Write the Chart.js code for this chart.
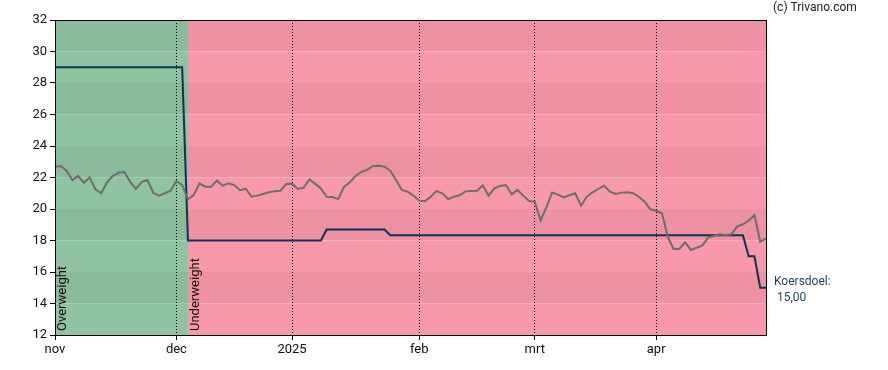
<!DOCTYPE html>
<html>
<head>
<meta charset="utf-8">
<script src="https://cdn.jsdelivr.net/npm/chart.js@4.4.1/dist/chart.umd.min.js"></script>
<style>
  body { margin: 0; background: #fff; }
  #wrap { width: 888px; height: 370px; position: relative; }
</style>
</head>
<body>
<div id="wrap"><canvas id="thecanvas"></canvas></div>
<script>
// trading days from 1 nov 2024, one value per day
const pricevals = [
  22.69, 22.73, 22.43, 21.84, 22.10, 21.67, 22.01, 21.25, 21.00, 21.70,
  22.10, 22.30, 22.35, 21.73, 21.27, 21.73, 21.84, 21.03, 20.85, 21.00,
  21.16, 21.78, 21.52, 20.62, 20.89, 21.63, 21.42, 21.42, 21.80, 21.48,
  21.63, 21.52, 21.20, 21.29, 20.78, 20.85, 20.95, 21.06, 21.12, 21.16,
  21.59, 21.61, 21.27, 21.35, 21.88, 21.61, 21.31, 20.78, 20.76, 20.63,
  21.40, 21.70, 22.10, 22.35, 22.48, 22.73, 22.75, 22.69, 22.43, 21.84,
  21.21, 21.10, 20.85, 20.53, 20.49, 20.78, 21.14, 21.00, 20.63, 20.78,
  20.87, 21.12, 21.14, 21.16, 21.50, 20.85, 21.31, 21.46, 21.52, 20.93,
  21.21, 20.85, 20.51, 20.46, 19.26, 20.10, 21.04, 20.91, 20.74, 20.87,
  21.00, 20.21, 20.78, 21.06, 21.27, 21.48, 21.10, 20.95, 21.04, 21.06,
  21.00, 20.78, 20.46, 19.98, 19.89, 19.73, 18.24, 17.46, 17.46, 17.88,
  17.40, 17.54, 17.69, 18.20, 18.29, 18.39, 18.35, 18.39, 18.88, 19.03,
  19.26, 19.62, 17.92, 18.14
];

// koersdoel (target) as steps: [from index, value]
const targetsteps = [[0, 29], [23, 18], [47, 18.7], [58, 18.33], [120, 17], [122, 15]];

// advice zones: [from index, label]
const zones = [[0, 'Overweight'], [23, 'Underweight']];

const monthidx = [0, 21, 41, 63, 83, 104];
const monthnames = ['nov', 'dec', '2025', 'feb', 'mrt', 'apr'];
const yticks = [12, 14, 16, 18, 20, 22, 24, 26, 28, 30, 32];

function buildtarget() {
  const out = [];
  for (let i = 0; i < pricevals.length; i++) {
    let v = null;
    for (let s = 0; s < targetsteps.length; s++) {
      if (i >= targetsteps[s][0]) v = targetsteps[s][1];
    }
    out.push({x: i, y: v});
  }
  return out;
}

const pricepts = pricevals.map(function(v, i) { return {x: i, y: v}; });

const zonecolors = {
  'Overweight': ['#90c3a2', '#89ba9a'],
  'Underweight': ['#f799aa', '#ee92a3']
};

const bgplugin = {
  id: 'bgzones',
  beforeDraw(chart) {
    const c = chart.ctx;
    const xs = chart.scales.x, ys = chart.scales.y;
    const area = chart.chartArea;
    for (let z = 0; z < zones.length; z++) {
      const x0 = xs.getPixelForValue(zones[z][0]);
      const x1 = z + 1 < zones.length ? xs.getPixelForValue(zones[z + 1][0]) : area.right;
      const cols = zonecolors[zones[z][1]];
      for (let v = 12; v < 32; v += 2) {
        const top = ys.getPixelForValue(v + 2), bot = ys.getPixelForValue(v);
        c.fillStyle = ((v / 2) % 2 === 0) ? cols[0] : cols[1];
        c.fillRect(x0, top, x1 - x0, bot - top);
      }
    }
  },
  afterDraw(chart) {
    const c = chart.ctx;
    const xs = chart.scales.x;
    const area = chart.chartArea;
    // zone labels
    c.save();
    c.font = '13px Roboto';
    c.fillStyle = '#111';
    c.textBaseline = 'middle';
    c.textAlign = 'left';
    for (let z = 0; z < zones.length; z++) {
      const x0 = xs.getPixelForValue(zones[z][0]);
      c.save();
      c.translate(x0 + 8, area.bottom - 4);
      c.rotate(-Math.PI / 2);
      c.fillText(zones[z][1], 0, 0);
      c.restore();
    }
    c.restore();
    // frame
    c.save();
    c.strokeStyle = '#000';
    c.lineWidth = 1;
    c.strokeRect(area.left + 0.5, area.top + 0.5, area.right - area.left, area.bottom - area.top);
    c.restore();
    // koersdoel text
    const last = targetsteps[targetsteps.length - 1][1];
    c.save();
    c.font = '12px Roboto';
    c.fillStyle = '#1d3d5e';
    c.textAlign = 'left';
    c.textBaseline = 'middle';
    c.fillText('Koersdoel:', area.right + 8, 282);
    c.fillText(last.toFixed(2).replace('.', ','), area.right + 11, 298);
    c.font = '12px Roboto';
    c.fillStyle = '#222';
    c.fillText('(c) Trivano.com', 773, 8);
    c.restore();
  }
};

new Chart(document.getElementById('thecanvas'), {
  type: 'line',
  data: {
    datasets: [{
      label: 'Koers',
      data: pricepts,
      borderColor: '#6e6e6e',
      borderWidth: 2,
      pointRadius: 0,
      tension: 0,
      order: 0
    }, {
      label: 'Koersdoel',
      data: buildtarget(),
      borderColor: '#0f3356',
      borderWidth: 2,
      pointRadius: 0,
      tension: 0,
      order: 1
    }]
  },
  options: {
    responsive: true,
    maintainAspectRatio: false,
    animation: false,
    layout: { padding: { left: 0, right: 122, top: 20, bottom: 0 } },
    plugins: { legend: { display: false }, tooltip: { enabled: false } },
    scales: {
      x: {
        type: 'linear',
        min: 0,
        max: pricevals.length - 1,
        afterBuildTicks: function(scale) {
          scale.ticks = monthidx.map(function(v) { return {value: v}; });
        },
        afterFit: function(scale) { scale.height = 35; },
        ticks: {
          autoSkip: false,
          maxRotation: 0,
          color: '#111',
          font: { family: 'Roboto', size: 13 },
          padding: 2,
          callback: function(val) {
            const k = monthidx.indexOf(val);
            return k >= 0 ? monthnames[k] : '';
          }
        },
        grid: {
          color: '#000',
          lineWidth: 1,
          tickLength: 5,
          tickBorderDash: [],
          drawOnChartArea: true
        },
        border: { display: false, dash: [1, 2] }
      },
      y: {
        min: 12,
        max: 32,
        afterBuildTicks: function(scale) {
          scale.ticks = yticks.map(function(v) { return {value: v}; });
        },
        afterFit: function(scale) { scale.width = 55; },
        ticks: {
          color: '#111',
          font: { family: 'Roboto', size: 13 },
          padding: 3
        },
        grid: {
          color: '#000',
          drawOnChartArea: false,
          tickLength: 5
        },
        border: { display: false }
      }
    }
  },
  plugins: [bgplugin]
});
</script>
</body>
</html>
